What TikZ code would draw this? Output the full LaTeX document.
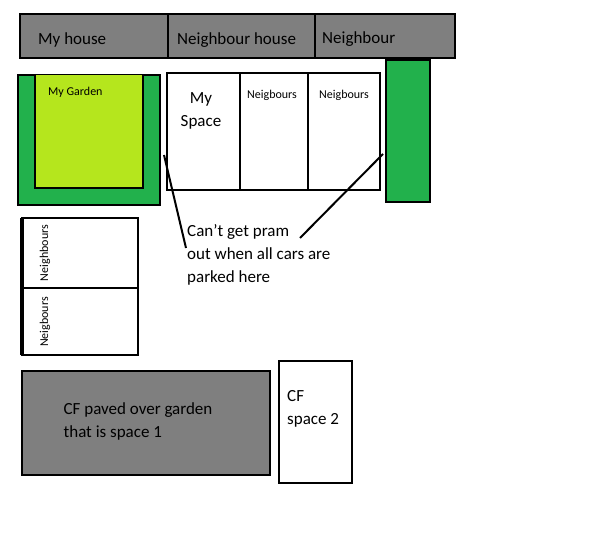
\documentclass[tikz,border=0pt]{standalone}
\usepackage{fontspec}
\setmainfont{Carlito}
\definecolor{paved}{RGB}{127,127,127}
\definecolor{hedge}{RGB}{34,177,76}
\definecolor{lawn}{RGB}{181,230,29}
\tikzset{
  plot/.style={draw=black, line width=2.5pt},
  big/.style={font=\fontsize{17}{23}\selectfont, inner sep=0pt},
  small/.style={font=\fontsize{12}{14}\selectfont, inner sep=0pt},
}
\begin{document}
\begin{tikzpicture}[x=1pt,y=-1pt]
\useasboundingbox (0,0) rectangle (600,537);
% houses
\draw[plot, fill=paved] (20,14) rectangle (168,58);
\draw[plot, fill=paved] (168,14) rectangle (315,58);
\draw[plot, fill=paved] (315,14) rectangle (455,58);
\node[big, anchor=west] (myhouse) at (38,40) {My house};
\node[big, anchor=west] (nhouse) at (177,40) {Neighbour house};
\node[big, anchor=west] (nb) at (322,39) {Neighbour};
% garden
\draw[plot, fill=hedge] (18,75) rectangle (160,205);
\draw[plot, fill=lawn] (35,75) -- (35,188) -- (143,188) -- (143,75);
\node[small, anchor=west] (garden) at (48,92) {My Garden};
% parking spaces
\draw[plot, fill=white] (167,73) rectangle (380,190);
\draw[plot] (240,73) -- (240,190);
\draw[plot] (308,73) -- (308,190);
\node[big, align=center] (myspace) at (201,111) {My\\Space};
\node[small] (n1) at (272,95) {Neigbours};
\node[small] (n2) at (344,95) {Neigbours};
% hedge strip
\draw[plot, fill=hedge] (386,60) rectangle (430,202);
% side spaces
\draw[line width=1.5pt, fill=white] (22,218) rectangle (138,355);
\draw[line width=1.5pt] (22,288) -- (138,288);
\draw[line width=3.5pt] (22,218) -- (22,355);
\node[small, rotate=90] (n3) at (45,253) {Neighbours};
\node[small, rotate=90] (n4) at (45,322) {Neigbours};
% note
\coordinate (p1) at (164,155);
\coordinate (p2) at (186,248);
\coordinate (p3) at (383,154);
\coordinate (p4) at (300,238);
\draw[line width=2pt] (p1) -- (p2);
\draw[line width=2pt] (p3) -- (p4);
\node[big, align=left, anchor=north west] (note) at (187,224) {Can{\char39}t get pram\\out when all cars are\\parked here};
% CF spaces
\draw[line width=2pt, fill=paved] (22,371) rectangle (270,475);
\node[big, align=left] (cf1) at (138,421) {CF paved over garden\\that is space 1};
\draw[line width=2pt, fill=white] (279,361) rectangle (352,483);
\node[big, align=left, anchor=north west] (cf2) at (287,390) {CF\\space 2};
\end{tikzpicture}
\end{document}
